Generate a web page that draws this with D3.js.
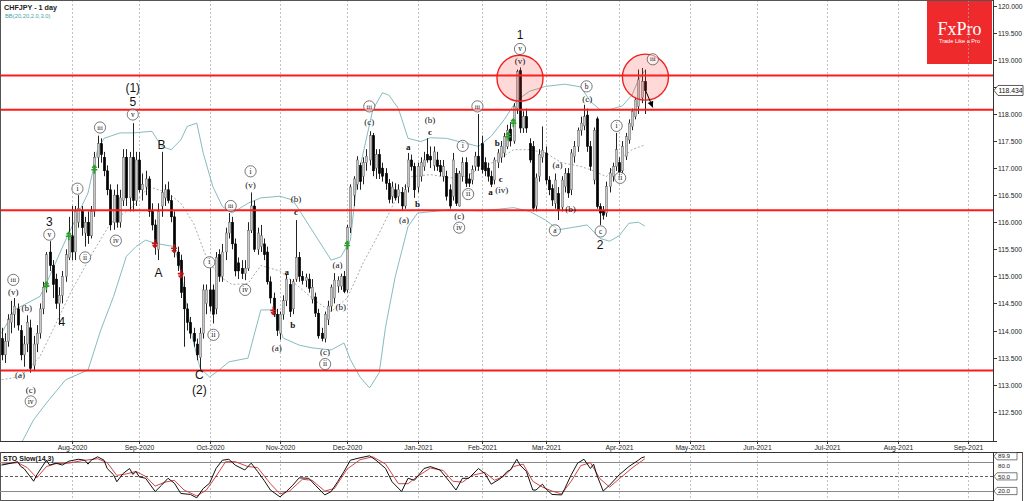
<!DOCTYPE html>
<html><head><meta charset="utf-8">
<script src="https://cdnjs.cloudflare.com/ajax/libs/d3/7.8.5/d3.min.js"></script>
<style>body{margin:0;background:#fff}svg{display:block}</style>
</head><body>
<svg id="c" width="1024" height="501"></svg>
<script>
// ---------- DATA ----------
const symbolTitle = "CHFJPY - 1 day";
const bbTitle = "BB(20,20,2.0,3.0)";
const stoTitle = "STO Slow(14,3)";
const firstDay = "2020-07-02";
const holidays = ["2020-12-25","2021-01-01"];

const opens = [113.85,113.55,113.8,114.15,114.3,114.4,114.0,113.55,113.75,114.05,113.35,113.75,113.95,114.4,114.8,115.45,115.2,114.95,114.5,114.65,115.0,115.35,115.75,115.45,116.0,116.2,115.8,116.0,115.75,116.2,117.2,117.45,117.2,116.95,116.6,116.0,116.5,116.0,116.4,117.2,116.45,117.2,116.4,117.15,116.6,116.65,116.8,116.2,115.95,115.5,116.3,116.45,116.6,116.4,116.1,115.45,115.3,114.8,114.4,114.15,113.95,113.75,113.5,113.95,114.5,114.75,114.75,114.4,115.4,115.0,115.45,115.8,116.0,115.6,115.25,115.15,115.05,115.15,115.85,116.3,115.5,115.55,115.6,115.45,114.9,114.6,114.3,113.95,114.3,114.55,114.85,114.4,114.95,115.35,115.0,114.92,114.95,114.58,114.62,114.32,113.95,113.85,114.2,114.45,114.6,114.82,114.82,115.0,114.75,115.9,116.5,116.7,117.05,116.85,117.1,117.15,117.6,117.0,117.25,117.0,116.9,116.72,116.48,116.6,116.48,116.55,116.3,116.65,117.15,117.03,116.65,116.85,117.03,117.25,117.22,117.05,117.15,117.05,116.85,116.85,116.6,116.48,116.9,116.3,116.85,117.1,116.8,116.78,117.03,117.22,117.45,117.1,117.0,116.85,116.78,117.1,117.2,117.28,117.4,117.72,117.5,118.1,118.8,117.74,117.95,117.45,117.4,116.3,116.85,117.2,117.28,116.78,116.62,116.35,116.53,116.28,116.66,116.9,116.6,117.22,117.4,117.7,117.78,117.98,117.4,116.78,117.91,116.29,116.2,116.17,116.66,116.85,117.03,117.1,116.95,117.22,117.52,117.77,117.95,118.14,118.3,118.6];
const highs = [114.05,113.95,114.3,114.55,114.6,114.5,114.1,113.9,114.28,114.2,113.9,114.1,114.5,114.9,115.45,115.65,115.3,115.05,114.8,115.1,115.5,116.1,116.3,116.3,116.5,116.3,116.1,116.2,116.3,117.3,117.6,117.55,117.3,117.05,116.7,116.6,116.7,116.6,117.35,117.35,117.3,117.83,117.3,117.3,116.9,116.95,116.85,116.35,116.05,116.35,117.3,116.7,116.75,116.5,116.2,115.55,115.4,115.0,114.5,114.25,114.05,113.85,114.05,114.85,114.85,115.15,114.85,115.45,115.5,115.6,115.9,116.17,116.1,115.7,115.35,115.3,115.3,116.0,116.55,116.4,115.9,115.95,115.7,115.55,115.0,114.7,114.4,114.35,114.65,115.05,114.95,114.95,116.04,115.45,115.1,115.05,115.05,114.95,114.7,114.4,114.05,114.35,114.55,114.85,115.06,115.0,115.05,115.1,115.95,116.7,116.85,117.22,117.1,117.2,117.35,117.68,117.65,117.35,117.35,117.1,117.0,116.8,116.75,116.72,116.7,116.65,116.7,117.28,117.25,117.1,117.1,117.2,117.3,117.55,117.4,117.4,117.3,117.15,117.15,116.95,116.7,117.28,117.0,116.95,117.2,117.2,116.9,117.05,117.3,118.0,117.6,117.2,117.1,116.95,117.2,117.35,117.5,117.65,117.8,117.85,118.2,118.82,118.86,118.05,118.1,117.55,117.5,116.9,117.35,117.77,117.4,116.85,116.7,116.9,116.65,116.85,117.0,117.0,117.35,117.5,117.75,117.95,118.17,118.1,117.5,117.75,117.95,116.35,116.3,116.75,117.0,117.1,117.65,117.2,117.5,117.65,117.9,118.1,118.3,118.82,118.85,118.82];
const lows = [113.45,113.4,113.7,113.95,114.05,114.0,113.45,113.33,113.6,113.22,113.25,113.6,113.85,114.3,114.7,115.1,114.6,114.4,114.1,114.5,114.9,115.3,115.3,115.3,115.9,115.75,115.55,115.6,115.7,116.1,117.0,117.1,116.85,116.5,115.85,115.86,115.9,115.9,116.3,116.3,116.2,116.2,116.3,116.55,116.4,116.5,116.1,115.85,115.4,115.3,116.1,116.3,116.35,116.0,115.35,115.1,114.6,113.7,114.0,113.85,113.7,113.45,113.27,113.85,114.3,114.35,114.13,114.3,114.9,114.9,115.3,115.7,115.5,115.0,114.95,114.95,114.93,115.1,115.8,115.45,115.4,115.45,115.3,114.85,114.5,114.25,113.9,113.83,114.2,114.45,114.25,114.3,114.9,114.9,114.85,114.8,114.7,114.5,114.25,113.85,113.8,113.78,114.1,114.35,114.5,114.7,114.75,114.69,114.7,115.8,116.3,116.6,116.6,116.7,116.95,117.05,116.85,116.8,116.8,116.75,116.6,116.35,116.35,116.4,116.35,116.23,116.25,116.55,116.95,116.45,116.55,116.75,116.95,117.1,117.0,116.95,116.95,116.85,116.75,116.4,116.25,116.4,116.3,116.29,116.75,116.65,116.65,116.7,116.95,116.95,116.9,116.85,116.75,116.65,116.7,117.0,117.1,117.2,117.35,117.4,117.45,118.0,117.65,117.65,117.65,117.1,116.2,116.2,116.75,117.1,116.7,116.5,116.3,116.25,116.04,116.2,116.55,116.45,116.5,117.1,117.3,117.6,117.7,117.3,116.95,116.7,116.25,115.95,116.05,116.1,116.55,116.75,116.95,116.85,116.9,117.15,117.45,117.7,117.9,118.0,118.2,118.0];
const closes = [113.55,113.8,114.2,114.3,114.45,114.1,113.55,113.75,114.15,113.3,113.75,113.95,114.4,114.8,115.4,115.2,114.85,114.5,114.65,115.0,115.4,115.8,115.45,116.2,116.25,115.9,116.0,115.75,116.2,117.2,117.45,117.25,116.95,116.6,115.95,116.5,116.0,116.45,117.2,116.45,117.2,116.4,117.15,116.6,116.7,116.8,116.2,115.95,115.6,116.2,116.55,116.6,116.4,116.1,115.45,115.2,114.7,114.4,114.15,113.95,113.8,113.55,113.95,114.75,114.75,114.45,114.3,115.35,115.0,115.45,115.8,116.0,115.6,115.1,115.1,115.05,115.15,115.85,116.3,115.5,115.8,115.75,115.4,114.9,114.6,114.3,114.0,114.3,114.55,114.95,114.35,114.9,115.35,115.0,114.92,114.98,114.78,114.8,114.32,113.9,113.85,114.3,114.45,114.8,114.93,114.93,115.0,114.72,115.9,116.65,116.8,117.15,116.75,117.1,117.22,117.6,116.95,117.25,116.9,116.85,116.72,116.42,116.65,116.45,116.6,116.3,116.6,117.15,117.03,116.6,117.03,117.1,117.15,117.15,117.15,117.3,117.03,116.93,117.03,116.48,116.3,117.15,116.35,116.9,117.1,116.72,116.72,116.97,117.22,117.03,116.97,116.95,116.85,116.7,117.15,117.28,117.4,117.58,117.7,117.5,118.14,118.78,117.74,117.95,117.74,117.15,116.26,116.82,117.25,117.33,116.78,116.6,116.41,116.78,116.23,116.78,116.9,116.54,117.28,117.4,117.7,117.83,117.95,117.4,117.03,117.7,116.29,116.17,116.13,116.66,116.91,117.03,117.34,116.93,117.4,117.58,117.83,118.05,118.26,118.63,118.6,118.43];

const lastPrice = 118.434;
const levelPrices = [118.71, 118.08, 116.22, 113.26];
const priceTicks = [112.5,113,113.5,114,114.5,115,115.5,116,116.5,117,117.5,118,118.5,119,119.5,120];

const bbUpperIdx = [0,4,12,14,20,27,30,32,37,41,47,50,53,56,58,61,63,66,69,72,77,81,87,91,95,99,103,106,109,111,113,116,119,121,124,127,131,134,139,145,149,153,157,161,165,170,176,181,184,187,190,194,197,199,201];
const bbUpper = [113.95,114.38,114.63,114.87,115.67,116.54,117.34,117.55,117.65,117.65,117.68,117.4,117.34,117.52,117.77,117.83,117.28,116.66,116.29,116.17,116.35,116.45,116.48,116.41,116.04,115.67,115.3,115.36,115.67,116.73,117.28,118.08,118.39,118.35,118.1,117.55,117.49,117.56,117.55,117.46,117.4,117.59,117.89,118.25,118.42,118.51,118.55,118.5,118.23,118.08,118.08,118.15,118.35,118.63,118.8];
const bbLowerIdx = [0,6,10,14,20,27,31,35,39,42,45,48,54,56,58,60,62,65,68,71,77,81,85,88,93,97,103,107,109,112,115,118,120,123,127,130,140,150,160,165,170,174,178,183,187,190,193,196,199,201];
const bbLower = [111.9,111.9,112.35,112.66,113.09,113.27,114.01,114.63,115.37,115.55,115.67,115.61,115.55,115.1,114.4,113.77,113.31,113.14,113.27,113.42,113.49,114.38,114.38,113.86,113.73,113.68,113.64,113.77,113.46,113.14,112.94,113.22,114.07,114.99,115.92,116.17,116.23,116.21,116.27,116.2,116.04,115.86,115.9,115.95,115.7,115.65,115.75,115.98,116.0,115.93];
const bbMidIdx = [0,6,12,17,22,29,34,41,46,52,56,60,64,68,72,77,81,87,93,98,103,108,113,118,123,128,134,140,145,150,155,160,165,170,175,181,185,189,193,197,201];
const bbMid = [113.09,113.15,113.52,114.13,114.75,115.49,115.98,116.29,116.66,116.54,116.35,115.98,115.35,115.0,114.85,114.87,115.2,115.1,114.8,114.55,114.35,114.6,115.25,115.8,116.4,116.84,116.88,116.82,116.85,117.0,117.15,117.34,117.34,117.28,117.1,117.03,116.95,116.84,117.15,117.34,117.43];

const stochKIdx = [0,3,5,6,7,9,10,11,13,14,15,17,19,21,24,26,27,28,30,32,33,35,36,38,40,41,42,43,45,48,50,52,54,56,59,61,63,65,67,69,71,73,76,78,80,82,84,87,89,91,93,96,98,101,103,105,107,109,112,115,117,120,122,125,127,129,132,134,137,140,142,144,146,149,151,153,156,158,159,161,162,164,166,167,169,170,172,175,176,178,180,182,184,185,186,188,190,193,196,199,200,201];
const stochK = [73,77,80,70,66,49,40,53,73,83,73,77,73,81,85,83,75,83,90,83,66,53,39,56,66,54,60,49,46,19,32,46,36,15,13,6,25,36,66,83,85,73,63,77,60,42,22,8,19,32,47,46,32,12,19,39,60,83,88,92,83,66,39,19,46,42,66,70,63,39,22,46,46,66,56,34,46,60,63,85,73,60,22,22,34,25,13,12,25,53,77,85,66,75,53,20,32,53,70,83,88,89.9];
const stochDIdx = [0,5,8,11,14,17,21,25,30,33,36,39,42,45,48,51,54,57,61,64,67,70,73,77,80,84,87,90,94,97,101,104,108,112,116,120,124,127,130,134,138,141,144,147,151,154,157,160,163,166,169,172,175,178,181,184,187,190,193,197,201];
const stochD = [75,78,68,47,70,76,77,82,86,78,52,55,60,50,30,38,42,22,10,22,50,80,80,70,68,35,14,20,44,42,20,25,65,84,90,75,35,35,50,67,62,40,38,52,58,42,50,70,75,40,28,20,14,40,72,78,45,28,45,67,86];
const stochLevels = [80, 50, 20];

// wave labels: [candle index, price, text, kind]
const waveLabels = [
 [3.66,114.935,"iii","c"],[3.66,114.72,"(v)","p"],[7.84,114.42,"(b)","p"],[5.75,113.18,"(a)","p"],
 [9.09,112.90,"(c)","p"],[9.09,112.69,"iv","c"],[14.9,116.01,"3","w"],[14.9,115.77,"v","c"],
 [18.8,114.15,"4","w"],[23.7,116.62,"i","c"],[26.1,115.35,"ii","c"],[30.75,117.75,"iii","c"],
 [35.7,115.66,"iv","c"],[41.0,118.48,"(1)","w"],[41.0,118.22,"5","w"],[41.0,117.99,"v","c"],
 [50.0,117.43,"B","w"],[49.0,115.06,"A","w"],[61.8,113.17,"C","w"],[61.8,112.91,"(2)","w"],
 [64.9,115.26,"i","c"],[66.2,113.92,"ii","c"],[71.6,116.30,"iii","c"],[76.1,114.75,"iv","c"],
 [77.8,116.94,"i","c"],[77.8,116.69,"(v)","p"],[86.0,113.67,"(a)","p"],[89.1,115.08,"a","l"],
 [91.0,114.10,"b","l"],[92.0,116.43,"(b)","p"],[92.0,116.19,"c","l"],[101.1,113.60,"(c)","p"],
 [101.1,113.38,"ii","c"],[105.0,115.21,"(a)","p"],[106.0,114.44,"(b)","p"],[114.9,118.14,"iii","c"],
 [114.9,117.86,"(c)","p"],[125.75,116.04,"(a)","p"],[127.1,117.39,"a","l"],[130.0,116.33,"b","l"],
 [133.9,117.88,"(b)","p"],[133.9,117.67,"c","l"],[144.1,117.41,"i","c"],[145.8,116.52,"ii","c"],
 [143.0,116.11,"(c)","p"],[143.0,115.90,"iv","c"],[148.7,118.14,"iii","c"],[152.8,116.56,"a","l"],
 [154.9,117.46,"b","l"],[156.0,116.80,"c","l"],[156.3,116.60,"(iv)","p"],[162.0,119.46,"1","w"],
 [162.0,119.20,"v","c"],[162.0,118.97,"(v)","p"],[173.7,117.05,"(a)","p"],[172.9,115.85,"a","c"],
 [177.8,116.24,"(b)","p"],[182.8,118.51,"b","c"],[183.0,118.28,"(c)","p"],[187.2,115.83,"c","c"],
 [187.0,115.58,"2","w"],[192.2,117.78,"i","c"],[193.3,116.82,"ii","c"],[203.5,119.01,"iii","c"]
];
const buySignals = [[14,114.82],[21,115.74],[29,116.97],[108,115.57],[158.3,117.58],[159.9,117.83]];
const sellSignals = [[47.9,115.61],[53.9,115.52],[56,115.05],[84.9,114.37]];
const circleMarks = [[162,118.66],[201.2,118.68]];
const arrowFrom = [201.2,118.44], arrowTo = [203.5,118.12];

// ---------- LAYOUT ----------
const svg = d3.select("#c");
const PR = 993, PB = 441, SPT = 452, SPB = 501;
const x = d3.scaleLinear().domain([0,310]).range([1.6, 993.6]);
const y = d3.scaleLinear().domain([112.5,120]).range([411.7,5.7]);
const ys = d3.scaleLinear().domain([0,100]).range([500.8,451.9]);
const sans = "'Liberation Sans', Arial, sans-serif";
const serif = "'Liberation Serif', 'Times New Roman', serif";

// trading dates
const parse = d3.timeParse("%Y-%m-%d"), fmtKey = d3.timeFormat("%Y-%m-%d");
const dates = [];
{ let d = parse(firstDay);
  while (dates.length < 312) {
    const wd = d.getDay();
    if (wd !== 0 && wd !== 6 && !holidays.includes(fmtKey(d))) dates.push(new Date(d));
    d = d3.timeDay.offset(d, 1);
  } }
const monthIdx = [];
for (let i = 1; i < dates.length; i++) if (dates[i].getMonth() !== dates[i-1].getMonth() && x(i) < PR) monthIdx.push(i);
const fmtMonth = d3.timeFormat("%b-%Y");

svg.append("rect").attr("width",1024).attr("height",501).attr("fill","#fff");
const defs = svg.append("defs");
defs.append("clipPath").attr("id","mainClip").append("rect").attr("x",0).attr("y",0).attr("width",PR).attr("height",PB);
defs.append("clipPath").attr("id","stoClip").append("rect").attr("x",0).attr("y",SPT).attr("width",PR).attr("height",SPB-SPT);

// logo
const logo = svg.append("g");
logo.append("rect").attr("x",927).attr("y",0).attr("width",65).attr("height",64).attr("fill","#ee2a2c");
logo.append("text").attr("x",959.5).attr("y",34.5).attr("text-anchor","middle").attr("fill","#fff")
  .style("font-family",serif).style("font-size","18px").text("FxPro");
logo.append("text").attr("x",959.5).attr("y",42.8).attr("text-anchor","middle").attr("fill","#fff")
  .style("font-family",sans).style("font-size","5.6px").text("Trade Like a Pro");

// gridlines
const grid = svg.append("g").attr("stroke","#a8a8a8").attr("stroke-dasharray","2,2").attr("stroke-width",0.7);
monthIdx.forEach(i => {
  const gx = Math.round(x(i)) + 0.5;
  grid.append("line").attr("x1",gx).attr("x2",gx).attr("y1",0).attr("y2",PB);
  grid.append("line").attr("x1",gx).attr("x2",gx).attr("y1",SPT).attr("y2",SPB);
});

const main = svg.append("g").attr("clip-path","url(#mainClip)");

// Bollinger bands
const pts = (idx, vals) => idx.map((d,k)=>[x(d), y(vals[k])]);
const ln = d3.line();
main.append("path").attr("d", ln(pts(bbUpperIdx,bbUpper))).attr("fill","none").attr("stroke","#86bcc0").attr("stroke-width",1);
main.append("path").attr("d", ln(pts(bbLowerIdx,bbLower))).attr("fill","none").attr("stroke","#86bcc0").attr("stroke-width",1);
main.append("path").attr("d", ln(pts(bbMidIdx,bbMid))).attr("fill","none").attr("stroke","#8a9898").attr("stroke-width",0.8).attr("stroke-dasharray","2,2");

// candles
const cg = main.append("g");
closes.forEach((c,i) => {
  const o = opens[i], up = c >= o, cx = Math.round(x(i)) + 0.5;
  cg.append("line").attr("x1",cx).attr("x2",cx).attr("y1",y(highs[i])).attr("y2",y(lows[i]))
    .attr("stroke","#222").attr("stroke-width",1);
  const top = y(Math.max(o,c)), bot = y(Math.min(o,c));
  cg.append("rect").attr("x",cx-1.2).attr("y",top).attr("width",2.4).attr("height",Math.max(1,bot-top))
    .attr("fill", up ? "#c8c8c8" : "#000").attr("stroke", up ? "#666" : "#000").attr("stroke-width",0.5);
});

// signals
buySignals.forEach(([i,p]) => {
  const px = x(i), py = y(p);
  main.append("path").attr("d",`M${px},${py-4}L${px},${py+4}M${px-3},${py}L${px+3},${py}M${px-2.2},${py-1.8}L${px},${py-4}L${px+2.2},${py-1.8}`)
    .attr("stroke","#2aa02a").attr("stroke-width",1.6).attr("fill","none");
});
sellSignals.forEach(([i,p]) => {
  const px = x(i), py = y(p);
  main.append("path").attr("d",`M${px},${py-4}L${px},${py+4}M${px-3},${py}L${px+3},${py}M${px-2.2},${py+1.8}L${px},${py+4}L${px+2.2},${py+1.8}`)
    .attr("stroke","#c01818").attr("stroke-width",1.6).attr("fill","none");
});

// horizontal levels
levelPrices.forEach(p => {
  main.append("line").attr("x1",0).attr("x2",PR).attr("y1",y(p)).attr("y2",y(p)).attr("stroke","#ff1a1a").attr("stroke-width",2);
});

// circles
circleMarks.forEach(([i,p]) => {
  main.append("circle").attr("cx",x(i)).attr("cy",y(p)).attr("r",23)
    .attr("fill","rgba(255,60,60,0.2)").attr("stroke","#f02020").attr("stroke-width",1.4);
});

// arrow
{
  const x1 = x(arrowFrom[0]), y1 = y(arrowFrom[1]), x2 = x(arrowTo[0]), y2 = y(arrowTo[1]);
  main.append("line").attr("x1",x1).attr("y1",y1).attr("x2",x2).attr("y2",y2).attr("stroke","#000").attr("stroke-width",1);
  const a = Math.atan2(y2-y1, x2-x1), L = 6, w = 3;
  const bx = x2 - L*Math.cos(a), by = y2 - L*Math.sin(a);
  main.append("path").attr("d",`M${x2},${y2}L${bx - w*Math.sin(a)},${by + w*Math.cos(a)}L${bx + w*Math.sin(a)},${by - w*Math.cos(a)}Z`).attr("fill","#000");
}

// wave labels
const lg = main.append("g");
waveLabels.forEach(([i,p,t,k]) => {
  const lx = x(i), ly = y(p);
  if (k === "c") {
    lg.append("circle").attr("cx",lx).attr("cy",ly).attr("r",5.6).attr("fill","#fff").attr("fill-opacity",0.5).attr("stroke","#555").attr("stroke-width",0.8);
    lg.append("text").attr("x",lx).attr("y",ly+2.2).attr("text-anchor","middle").style("font-family",serif)
      .style("font-size", t.length>2 ? "6.5px" : "7.5px").attr("fill","#111").text(t);
  } else if (k === "w") {
    lg.append("text").attr("x",lx).attr("y",ly+4).attr("text-anchor","middle").style("font-family",sans)
      .style("font-size","12px").attr("fill","#111").text(t);
  } else {
    lg.append("text").attr("x",lx).attr("y",ly+3).attr("text-anchor","middle").style("font-family",serif)
      .style("font-size","9px").style("font-weight", k==="l" ? "bold":"normal").attr("fill","#111").text(t);
  }
});

// frame main
svg.append("line").attr("x1",0).attr("x2",PR).attr("y1",0.5).attr("y2",0.5).attr("stroke","#555");
svg.append("line").attr("x1",0.5).attr("x2",0.5).attr("y1",0).attr("y2",PB).attr("stroke","#555");
svg.append("line").attr("x1",0).attr("x2",PR+4).attr("y1",PB+0.5).attr("y2",PB+0.5).attr("stroke","#333");
svg.append("line").attr("x1",PR+0.5).attr("x2",PR+0.5).attr("y1",0).attr("y2",PB+1).attr("stroke","#333");

// y axis
const ya = svg.append("g");
const py0 = y(lastPrice);
priceTicks.forEach(v => {
  const ty = Math.round(y(v)) + 0.5;
  ya.append("line").attr("x1",PR).attr("x2",PR+4).attr("y1",ty).attr("y2",ty).attr("stroke","#333");
  // the last-price box covers the label lying under it, as in the source chart
  if (Math.abs(ty - py0) > 8)
    ya.append("text").attr("x",PR+5).attr("y",ty+2.4).style("font-family",sans).style("font-size","6.8px").attr("fill","#222").text(d3.format(".3f")(v));
});
ya.append("path").attr("d",`M${PR+1},${py0}L${PR+5},${py0-5}L1023,${py0-5}L1023,${py0+5}L${PR+5},${py0+5}Z`).attr("fill","#fff").attr("stroke","#333").attr("stroke-width",0.8);
ya.append("text").attr("x",PR+5.5).attr("y",py0+2.4).style("font-family",sans).style("font-size","6.8px").attr("fill","#111").text(d3.format(".3f")(lastPrice));

// x axis labels
const xa = svg.append("g");
monthIdx.forEach(i => {
  const gx = Math.round(x(i)) + 0.5;
  xa.append("line").attr("x1",gx).attr("x2",gx).attr("y1",PB).attr("y2",PB+3).attr("stroke","#333");
  xa.append("text").attr("x",gx).attr("y",450.3).attr("text-anchor","middle").style("font-family",sans).style("font-size","6.8px").attr("fill","#222").text(fmtMonth(dates[i]));
});

// header
svg.append("text").attr("x",4).attr("y",9.5).style("font-family",sans).style("font-size","7.2px").style("font-weight","bold").attr("fill","#222").text(symbolTitle);
svg.append("text").attr("x",5).attr("y",17.5).style("font-family",sans).style("font-size","5.8px").attr("fill","#4aa3a8").text(bbTitle);

// stochastic panel
svg.append("line").attr("x1",0).attr("x2",1023).attr("y1",SPT+0.5).attr("y2",SPT+0.5).attr("stroke","#333");
svg.append("line").attr("x1",0.5).attr("x2",0.5).attr("y1",SPT).attr("y2",SPB).attr("stroke","#555");
svg.append("line").attr("x1",PR+0.5).attr("x2",PR+0.5).attr("y1",SPT).attr("y2",SPB).attr("stroke","#333");
svg.append("line").attr("x1",1022.5).attr("x2",1022.5).attr("y1",SPT).attr("y2",SPB).attr("stroke","#555");
svg.append("line").attr("x1",0).attr("x2",PR).attr("y1",500.5).attr("y2",500.5).attr("stroke","#555");
const sg = svg.append("g").attr("clip-path","url(#stoClip)");
stochLevels.forEach(v => {
  sg.append("line").attr("x1",0).attr("x2",PR).attr("y1",Math.round(ys(v))+0.5).attr("y2",Math.round(ys(v))+0.5)
    .attr("stroke", v===50 ? "#333" : "#8a8a8a").attr("stroke-width", v===50 ? 0.8 : 1).attr("stroke-dasharray", v===50 ? "3,2" : null);
});
sg.append("path").attr("d", ln(stochDIdx.map((d,k)=>[x(d), ys(stochD[k])]))).attr("fill","none").attr("stroke","#d03030").attr("stroke-width",0.9);
sg.append("path").attr("d", ln(stochKIdx.map((d,k)=>[x(d), ys(stochK[k])]))).attr("fill","none").attr("stroke","#111").attr("stroke-width",1);
svg.append("text").attr("x",3).attr("y",461).style("font-family",sans).style("font-size","7px").style("font-weight","bold").attr("fill","#111").text(stoTitle);

const boxLabel = (py, txt, boxed) => {
  if (boxed) svg.append("path").attr("d",`M${PR+1},${py}L${PR+4},${py-3.6}L1017,${py-3.6}L1017,${py+3.6}L${PR+4},${py+3.6}Z`).attr("fill","#fff").attr("stroke","#444").attr("stroke-width",0.7);
  svg.append("text").attr("x",PR+5).attr("y",py+2.2).style("font-family",sans).style("font-size","6.2px").attr("fill","#222").text(txt);
};
const lastK = stochK[stochK.length-1];
boxLabel(ys(80) + 3.8, "80.0", false);
boxLabel(ys(lastK) - 0.6, d3.format(".1f")(lastK), true);
boxLabel(ys(50), "50.0", true);
boxLabel(ys(20), "20.0", true);
</script>
</body></html>
